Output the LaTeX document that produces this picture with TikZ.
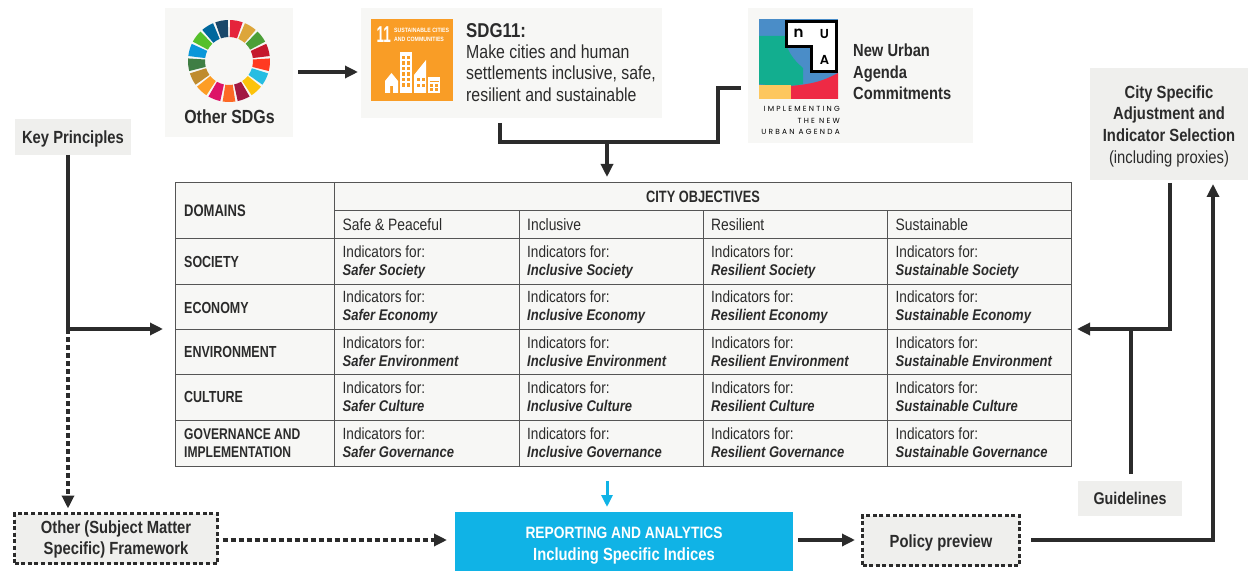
\documentclass[tikz,border=0pt]{standalone}
\usepackage{fontspec}
\usepackage{graphicx}
\setmainfont[FakeStretch=0.84]{Liberation Sans}
\newfontfamily\condf[FakeStretch=0.78]{Liberation Sans}
\newfontfamily\logofont[LetterSpace=30]{Poppins}
\newfontfamily\logobold{Poppins SemiBold}
\usetikzlibrary{arrows.meta,calc}
\definecolor{ink}{HTML}{2B2B2B}
\definecolor{panel}{HTML}{F7F7F5}
\definecolor{greybox}{HTML}{EFEFED}
\definecolor{rule}{HTML}{555555}
\definecolor{cyanbox}{HTML}{10B3E6}
\definecolor{sdgorange}{HTML}{F99D26}
\definecolor{nuablue}{HTML}{4A8DC8}
\definecolor{nuagreen}{HTML}{12AE8F}
\definecolor{nuayellow}{HTML}{FDC75F}
\definecolor{nuared}{HTML}{EE2A45}
\newcommand{\dn}{\rule{0pt}{17pt}}
\newcommand{\dnb}{\rule{0pt}{20pt}}
\newcommand{\dns}{\rule{0pt}{15pt}}
\tikzset{
  panelbox/.style={fill=panel,draw=none,inner sep=0pt,outer sep=0pt},
  greyb/.style={fill=greybox,draw=none,inner sep=0pt,outer sep=0pt,text=ink,align=center,font=\fontsize{17.6}{21.6}\selectfont\bfseries},
  dashb/.style={greyb,draw=ink,line width=2.8pt,dash pattern=on 4pt off 2.6pt},
  conn/.style={draw=ink,line width=3.2pt,-{Triangle[length=13pt,width=12pt]}},
  plainconn/.style={draw=ink,line width=3.2pt},
  dashconn/.style={conn,dash pattern=on 5pt off 3pt},
  celltxt/.style={anchor=west,align=left,text=ink,inner sep=0pt,font=\fontsize{16.2}{17.8}\selectfont},
  domtxt/.style={celltxt,font=\condf\fontsize{16}{17.8}\selectfont\bfseries},
  tabline/.style={draw=rule,line width=1pt},
}
\newcommand{\itl}[1]{{\fontsize{15.5}{17.8}\selectfont\bfseries\itshape #1}}
\begin{document}
\begin{tikzpicture}[x=1pt,y=-1pt]
\useasboundingbox (0,0) rectangle (1248,572);
% top panels
\node[panelbox,minimum width=128pt,minimum height=129pt,anchor=north west] (sdgs) at (165,8) {};
\node[panelbox,minimum width=301pt,minimum height=110pt,anchor=north west] (sdg11) at (361,8) {};
\node[panelbox,minimum width=225pt,minimum height=135pt,anchor=north west] (nua) at (748,8) {};
% wheel
\foreach \i/\c in {0/E5243B,1/DDA63A,2/4C9F38,3/C5192D,4/FF3A21,5/26BDE2,6/FCC30B,7/A21942,8/FD6925,9/DD1367,10/FD9D24,11/BF8B2E,12/3F7E44,13/0A97D9,14/56C02B,15/00689D,16/19486A}{
  \definecolor{wc}{HTML}{\c}
  \pgfmathsetmacro{\aa}{-90+\i*360/17+1.7}
  \pgfmathsetmacro{\ab}{-90+(\i+1)*360/17-1.7}
  \fill[wc] (229,61)++(\aa:41) arc[start angle=\aa,end angle=\ab,radius=41] -- ($(229,61)+(\ab:24)$) arc[start angle=\ab,end angle=\aa,radius=24] -- cycle;
}
\node[text=ink,inner sep=0pt,font=\fontsize{19}{22}\selectfont\bfseries] (sdgl) at (229.5,117) {Other SDGs};
% SDG11 tile
\fill[sdgorange] (371,19) rectangle (453,101);
\node[anchor=west,inner sep=0pt,text=white,font=\fontsize{23}{24}\selectfont\bfseries] (el) at (376.5,34.5) {\scalebox{0.7}[1]{11}};
\node[anchor=west,inner sep=0pt,text=white,align=left,font=\fontsize{6.2}{9.2}\selectfont\bfseries] (sc) at (394,34.5) {SUSTAINABLE CITIES\\AND COMMUNITIES};
\fill[white] (385,93) -- (385,81) -- (391.5,73) -- (398,81) -- (398,93) -- (393,93) -- (393,86) -- (390,86) -- (390,93) -- cycle;
\fill[white] (399.5,52) rectangle (412,93);
\foreach \yy in {56,61.5,67,72.5,78,83.5}{\foreach \xx in {402,407}{\fill[sdgorange] (\xx,\yy) rectangle +(3,3.2);}}
\fill[white] (414,93) -- (414,75) -- (426,60) -- (426,93) -- cycle;
\foreach \yy in {78,84}{\foreach \xx in {416.5,421.5}{\fill[sdgorange] (\xx,\yy) rectangle +(3,3.2);}}
\fill[white] (428,77) rectangle (440,93);
\fill[sdgorange] (429.5,81) rectangle (438.5,82);
\foreach \yy in {84,88.5}{\foreach \xx in {430,435}{\fill[sdgorange] (\xx,\yy) rectangle +(3,3);}}
\node[anchor=north west,inner sep=0pt,text=ink,font=\fontsize{20}{22}\selectfont\bfseries] (t11) at (466,23) {SDG11:};
\node[anchor=north west,inner sep=0pt,text=ink,align=left,font=\fontsize{18.9}{21.5}\selectfont] (t12) at (466,44.5) {Make cities and human\\settlements inclusive, safe,\\resilient and sustainable};
% NUA logo
\fill[nuablue] (759,19) rectangle (838,99);
\fill[nuagreen] (759,36) -- (785,36) .. controls (786,55) and (800,65) .. (803,68) -- (803,84) .. controls (790,87) and (775,86) .. (759,84) -- cycle;
\fill[nuared] (759,86) -- (790,86) .. controls (815,84) and (825,80) .. (838,73) -- (838,99) -- (759,99) -- cycle;
\fill[nuayellow] (759,85) rectangle (791,99);
\filldraw[white,draw=black,line width=2.6pt] (786.3,21.3) -- (836.7,21.3) -- (836.7,71.7) -- (811.5,71.7) -- (811.5,46.5) -- (786.3,46.5) -- cycle;
\node[inner sep=0pt,text=black,font=\logobold\fontsize{15}{15}\selectfont] (ln) at (798.5,33) {n};
\node[inner sep=0pt,text=black,font=\logobold\fontsize{13}{15}\selectfont] (lu) at (824.5,34) {U};
\node[inner sep=0pt,text=black,font=\logobold\fontsize{13}{15}\selectfont] (la) at (824.5,60) {A};
\node[anchor=north east,inner sep=0pt,text=black,align=right,font=\logofont\fontsize{7.4}{11.5}\selectfont] (lt) at (840,106.5) {IMPLEMENTING\\THE NEW\\URBAN AGENDA};
\node[anchor=north west,inner sep=0pt,text=ink,align=left,font=\fontsize{17.5}{21.5}\selectfont\bfseries] (nt) at (853,44) {New Urban\\Agenda\\Commitments};
% side boxes
\node[greyb,minimum width=116pt,minimum height=36pt,anchor=north west] (key) at (15,119) {\dn Key Principles};
\node[greyb,minimum width=158pt,minimum height=112pt,anchor=north west] (city) at (1090,68) {\dn City Specific\\Adjustment and\\Indicator Selection\\{\mdseries(including proxies)}};
\node[greyb,font=\fontsize{17}{21}\selectfont\bfseries,minimum width=104pt,minimum height=35pt,anchor=north west] (guide) at (1078,481) {Guidelines};
\node[dashb,minimum width=203pt,minimum height=50pt,anchor=north west] (other) at (14.5,513.5) {\dns Other (Subject Matter\\Specific) Framework};
\node[dashb,minimum width=157pt,minimum height=50pt,anchor=north west] (policy) at (862.5,515.5) {\dn Policy preview};
\node[fill=cyanbox,text=white,align=center,inner sep=0pt,outer sep=0pt,minimum width=338pt,minimum height=59pt,anchor=north west,font=\fontsize{17.6}{21.5}\selectfont\bfseries] (rep) at (455,512) {\dnb{\fontsize{16.4}{21.5}\selectfont REPORTING AND ANALYTICS}\\Including Specific Indices};
% table
\fill[panel] (175.5,182.5) rectangle (1071.5,466.5);
\draw[tabline] (175.5,182.5) rectangle (1071.5,466.5);
\foreach \y in {238.5,284.5,329.5,374.5,420.5}{\draw[tabline] (175.5,\y) -- (1071.5,\y);}
\draw[tabline] (334.5,210.5) -- (1071.5,210.5);
\draw[tabline] (334.5,182.5) -- (334.5,466.5);
\foreach \x in {519.5,703.5,887.5}{\draw[tabline] (\x,210.5) -- (\x,466.5);}
\node[domtxt,font=\condf\fontsize{16.7}{18}\selectfont\bfseries] (d0) at (184,211) {DOMAINS};
\node[domtxt,anchor=center,font=\condf\fontsize{16.4}{18}\selectfont\bfseries] (h0) at (703,197) {CITY OBJECTIVES};
\node[celltxt,font=\fontsize{16.5}{18}\selectfont] (h1) at (342.5,225) {Safe \& Peaceful};
\node[celltxt,font=\fontsize{16.5}{18}\selectfont] (h2) at (527,225) {Inclusive};
\node[celltxt,font=\fontsize{16.5}{18}\selectfont] (h3) at (711,225) {Resilient};
\node[celltxt,font=\fontsize{16.5}{18}\selectfont] (h4) at (895.5,225) {Sustainable};
\foreach \n/\txt/\ym/\nm in {1/SOCIETY/262/Society,2/ECONOMY/307.5/Economy,3/ENVIRONMENT/352/Environment,4/CULTURE/397/Culture}{
  \node[domtxt] (d\n) at (184,\ym) {\txt};
  \foreach \k/\xx/\w in {a/342.5/Safer,b/527/Inclusive,c/711/Resilient,d/895.5/Sustainable}{
    \node[celltxt] (c\n\k) at (\xx,\ym) {Indicators for:\\\itl{\w\ \nm}};
  }
}
\node[domtxt,align=left,font=\condf\fontsize{15.5}{17.8}\selectfont\bfseries] (d5) at (184,443) {GOVERNANCE AND\\IMPLEMENTATION};
\foreach \k/\xx/\w in {a/342.5/Safer,b/527/Inclusive,c/711/Resilient,d/895.5/Sustainable}{
  \node[celltxt] (c5\k) at (\xx,443) {Indicators for:\\\itl{\w\ Governance}};
}
\coordinate (tabtop) at (607,177);
\coordinate (tabbot) at (607,481);
\coordinate (tabl) at (163,329);
\coordinate (tabr) at (1077,329);
\coordinate (j1) at (68,329);
\coordinate (j2) at (1131,329);
% connectors
\draw[conn] (298,72) -- (358,72);
\draw[plainconn] ($(sdg11.south west)+(139,5)$) -- ++(0,19) -| ($(nua.west)+(-30,12.5)$) -- ($(nua.west)+(-7,12.5)$);
\draw[conn] (607,142) -- (tabtop);
\draw[conn] (key.south -| j1) -- (j1) -- (tabl);
\draw[dashconn] (j1) -- ($(other.north -| j1)+(0,-5)$);
\draw[dashconn] ($(other.east)+(5,1.5)$) -- ($(rep.west)+(-8,-1.5)$);
\draw[draw=cyanbox,line width=3pt,-{Triangle[length=12pt,width=11pt]}] (tabbot) -- (607,507);
\draw[conn] ($(rep.east)+(5,-1.5)$) -- (855,540);
\draw[conn] (1031,540) -- (1213,540) -- (1213,184);
\draw[conn] (1170,183) -- (1170,329) -- (tabr);
\draw[plainconn] ($(guide.north -| j2)+(0,-7)$) -- (j2);
\end{tikzpicture}
\end{document}
